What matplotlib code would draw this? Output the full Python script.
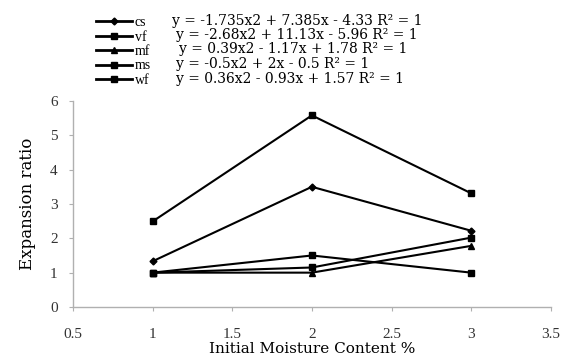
import matplotlib.pyplot as plt

plt.rcParams['font.family'] = ['Liberation Serif', 'DejaVu Serif']

# Data
moisture = [1, 2, 3]
series_names = ['cs', 'vf', 'mf', 'ms', 'wf']
cs = [1.33, 3.50, 2.22]
vf = [2.49, 5.58, 3.31]
mf = [1.00, 1.00, 1.78]
ms = [1.00, 1.50, 1.00]
wf = [1.00, 1.15, 2.02]
equations = [
    'y = -1.735x2 + 7.385x - 4.33 R\u00b2 = 1',
    'y = -2.68x2 + 11.13x - 5.96 R\u00b2 = 1',
    'y = 0.39x2 - 1.17x + 1.78 R\u00b2 = 1',
    'y = -0.5x2 + 2x - 0.5 R\u00b2 = 1',
    'y = 0.36x2 - 0.93x + 1.57 R\u00b2 = 1',
]
x_ticks = [0.5, 1, 1.5, 2, 2.5, 3, 3.5]
x_tick_labels = ['0.5', '1', '1.5', '2', '2.5', '3', '3.5']
y_ticks = [0, 1, 2, 3, 4, 5, 6]

markers = ['D', 's', '^', 's', 's']
msizes = [3.5, 5, 5, 5, 5]

wide = ['DejaVu Serif']

fig = plt.figure(figsize=(5.65, 3.58), dpi=100)
ax = fig.add_axes([0.129, 0.1425, 0.846, 0.5755])

handles = []
for vals, m, s in zip([cs, vf, mf, ms, wf], markers, msizes):
    h, = ax.plot(moisture, vals, color='black', lw=1.5, marker=m, ms=s)
    handles.append(h)

ax.set_xlim(0.5, 3.5)
ax.set_ylim(0, 6)
ax.set_xticks(x_ticks)
ax.set_xticklabels(x_tick_labels)
ax.set_yticks(y_ticks)

for side in ['top', 'right']:
    ax.spines[side].set_visible(False)
for side in ['left', 'bottom']:
    ax.spines[side].set_color('#b0b0b0')
    ax.spines[side].set_linewidth(1)
ax.tick_params(colors='#b0b0b0', labelcolor='#333333', labelsize=11, length=3)
ax.tick_params(axis='x', pad=12)
ax.tick_params(axis='y', pad=8)

ax.set_xlabel('Initial Moisture Content %', fontsize=11, family=wide, labelpad=0.5)
ax.set_ylabel('Expansion ratio', fontsize=12, family=wide, labelpad=10)

leg = fig.legend(handles, series_names, loc='upper left', bbox_to_anchor=(0.16, 0.97),
                 frameon=False, fontsize=10, handlelength=2.6, handletextpad=0.2,
                 labelspacing=0.1, borderaxespad=0)
for line in leg.get_lines():
    line.set_linewidth(2)

eq_x = [172, 176, 179, 176, 176]
row_y = [21, 35, 49, 64, 79]
for eq, ex, ry in zip(equations, eq_x, row_y):
    fig.text(ex / 565, 1 - ry / 358, eq, fontsize=10, family=wide,
             va='center', ha='left')

plt.savefig('out.png', dpi=100)
